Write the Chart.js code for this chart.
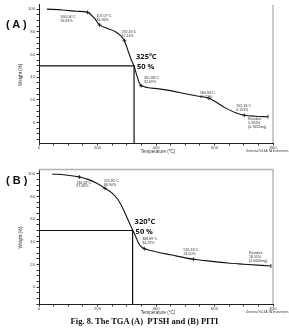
<!DOCTYPE html>
<html>
<head>
<meta charset="utf-8">
<script src="https://cdn.jsdelivr.net/npm/chart.js@4.4.0/dist/chart.umd.min.js"></script>
<style>
  body { margin: 0; background: #fff; width: 289px; height: 331px; overflow: hidden; position: relative; }
  canvas { position: absolute; left: 0; }
  #cA { top: 0; }
  #cB { top: 160px; }
  .tag { position: absolute; left: 6px; font: bold 11px "Liberation Sans", sans-serif; color: #111; white-space: pre; }
  #cap { position: absolute; left: 0; top: 316px; width: 289px; text-align: center; font: bold 8.5px "Liberation Serif", serif; color: #111; white-space: pre; }
</style>
</head>
<body>
<canvas id="cA" width="289" height="160"></canvas>
<canvas id="cB" width="289" height="158"></canvas>
<div class="tag" style="top:18px">( A )</div>
<div class="tag" style="top:174px">( B )</div>
<div id="cap">Fig. 8. The TGA (A)  PTSH and (B) PITI</div>
<script>
// x ticks / y ticks
const xTicks = [0, 200, 400, 600, 800];
const yTicks = [0, 20, 40, 60, 80, 100];

// (A) PTSH curve
const tempA   = [27, 80, 130, 166, 190, 207, 230, 260, 280, 292, 305, 316, 325, 335, 345, 355, 370, 410, 454, 500, 540, 581, 637, 670, 702, 740, 783];
const weightA = [100.2, 99.4, 98.3, 97.3, 92, 86.2, 83.5, 80.5, 76.5, 72.3, 63, 55, 50, 41, 34, 32, 31, 29.8, 28, 25.5, 23.5, 21.5, 13, 9, 6.5, 5.6, 5.2];
const markTempA   = [166, 207, 292, 349, 581, 702, 783];
const markWeightA = [97.3, 86.2, 72.3, 32.5, 21.5, 6.5, 5.2];
const markLabelA  = [["166.04°C", "96.81%"], ["207.07°C", "84.96%"], ["292.16°C", "72.14%"], ["351.88°C", "32.69%"],
                     ["580.84°C", "21.23%"], ["702.16°C", "6.113%"], ["Residue:", "5.594%", "(0.7652mg)"]];
const halfTempA = 325;

// (B) PITI curve
const tempB   = [45, 90, 138, 170, 196, 226, 250, 265, 280, 293, 305, 320, 330, 340, 350, 362, 403, 450, 528, 600, 645, 700, 793];
const weightB = [100, 99.1, 97.3, 95, 92, 87.3, 83, 79, 73, 66, 59, 50.5, 45, 39, 35.5, 33.8, 31, 28.5, 24.6, 22.5, 21.2, 20.2, 18.6];
const markTempB   = [138, 226, 360, 528, 793];
const markWeightB = [97.3, 87.3, 33.9, 24.6, 18.6];
const markLabelB  = [["136.58°C", "97.08%"], ["225.81°C", "86.90%"], ["368.89°C", "34.29%"], ["526.16°C", "24.50%"],
                     ["Residue:", "18.55%", "(2.0000mg)"]];
const halfTempB = 320;
const halfWeight = 50;

// label offsets in px from each marker (layout only)
const offA = [[-27, 5], [-3, -8.5], [-3, -9], [3, -8], [-9, -5], [-8, -9], [-20, 2.5]];
const offB = [[-3, 5.5], [-1, -7], [-2, -10], [-10, -9], [-22, -13]];

function overlay(o) {
  return {
    id: 'overlay',
    beforeDatasetsDraw(chart) {
      const c = chart.ctx, a = chart.chartArea;
      c.save();
      c.strokeStyle = '#b0b0b0';
      c.lineWidth = 1.3;
      c.beginPath();
      if (o.topFrame) { c.moveTo(a.left, a.top + 0.5); c.lineTo(a.right, a.top + 0.5); }
      else c.moveTo(a.right, a.top);
      c.lineTo(a.right, a.bottom);
      c.stroke();
      c.restore();
    },
    afterDraw(chart) {
      const c = chart.ctx, a = chart.chartArea;
      const xs = chart.scales.x, ys = chart.scales.y;
      c.save();
      c.fillStyle = '#333';
      c.font = '3.6px "Liberation Sans"';
      c.textBaseline = 'middle';
      c.textAlign = 'left';
      o.temps.forEach((t, i) => {
        const px = xs.getPixelForValue(t) + o.off[i][0];
        const py = ys.getPixelForValue(o.weights[i]) + o.off[i][1];
        o.labels[i].forEach((s, j) => c.fillText(s, px, py + j * 3.8));
      });
      // big labels
      const hx = xs.getPixelForValue(o.half), hy = ys.getPixelForValue(halfWeight);
      c.fillStyle = '#111';
      c.font = 'bold 7.5px "Open Sans"';
      c.textBaseline = 'alphabetic';
      c.fillText(o.half + 'ºC', hx + 2, hy - 7);
      c.fillText('50 %', hx + 3, hy + 3);
      // axis titles
      c.fillStyle = '#333';
      c.font = '4.5px "Liberation Sans"';
      c.textAlign = 'center';
      c.textBaseline = 'middle';
      c.fillText('Temperature (°C)', (a.left + a.right) / 2 + 2, a.bottom + 8.5);
      c.save();
      c.translate(21, (a.top + a.bottom) / 2 + 1);
      c.rotate(-Math.PI / 2);
      c.fillText('Weight (%)', 0, 0);
      c.restore();
      c.font = '3px "Liberation Sans"';
      c.textAlign = 'left';
      c.fillText('Universal V4.4A TA Instruments', 246, a.bottom + 8);
      c.restore();
    }
  };
}

function build(id, o) {
  const curve = o.T.map((t, i) => ({ x: t, y: o.W[i] }));
  const marks = o.temps.map((t, i) => ({ x: t, y: o.weights[i] }));
  const last = marks.length - 1;
  const half = [{ x: 0, y: halfWeight }, { x: o.half, y: halfWeight }, { x: o.half, y: o.yMin }];
  const xMinor = []; for (let v = 0; v <= 800; v += 50) xMinor.push(v);
  const yMinor = []; for (let v = -15; v <= 100; v += 5) yMinor.push(v);
  return new Chart(document.getElementById(id), {
    type: 'scatter',
    data: {
      datasets: [
        { data: curve, showLine: true, borderColor: '#111', borderWidth: 1.1, pointRadius: 0, cubicInterpolationMode: 'monotone' },
        { data: marks, showLine: false, borderColor: '#111', borderWidth: 0.8,
          pointStyle: marks.map((m, i) => i === last ? 'line' : 'cross'),
          rotation: marks.map((m, i) => i === last ? 90 : 0),
          pointRadius: 2 },
        { data: half, showLine: true, borderColor: '#111', borderWidth: 1.2, pointRadius: 0 }
      ]
    },
    options: {
      responsive: false,
      animation: false,
      events: [],
      layout: { padding: { left: 0, right: 16, top: o.padTop, bottom: 0 } },
      plugins: { legend: { display: false }, tooltip: { enabled: false } },
      scales: {
        x: {
          type: 'linear', min: 0, max: 800,
          afterBuildTicks: s => { s.ticks = xMinor.map(v => ({ value: v })); },
          afterFit: s => { s.height = o.xH; },
          ticks: { callback: v => xTicks.includes(v) ? String(v) : '', font: { size: 4.2, family: 'Liberation Sans' }, color: '#444', padding: 0, autoSkip: false, maxRotation: 0 },
          grid: { drawOnChartArea: false, tickLength: 2.5, color: '#333' },
          border: { color: '#222', width: 1 }
        },
        y: {
          type: 'linear', min: o.yMin, max: o.yMax,
          afterBuildTicks: s => { s.ticks = yMinor.map(v => ({ value: v })); },
          afterFit: s => { s.width = 39; },
          ticks: { callback: v => yTicks.includes(v) ? String(v) : '', font: { size: 4.2, family: 'Liberation Sans' }, color: '#444', padding: 1.5, autoSkip: false },
          grid: { drawOnChartArea: false, tickLength: 2.5, color: '#333' },
          border: { color: '#222', width: 1 }
        }
      }
    },
    plugins: [overlay(o)]
  });
}

build('cA', { T: tempA, W: weightA, temps: markTempA, weights: markWeightA, labels: markLabelA, off: offA,
  half: halfTempA, yMin: -18, yMax: 104, padTop: 0, xH: 17, topFrame: false });
build('cB', { T: tempB, W: weightB, temps: markTempB, weights: markWeightB, labels: markLabelB, off: offB,
  half: halfTempB, yMin: -15, yMax: 104.4, padTop: 9, xH: 14, topFrame: true });
</script>
</body>
</html>
